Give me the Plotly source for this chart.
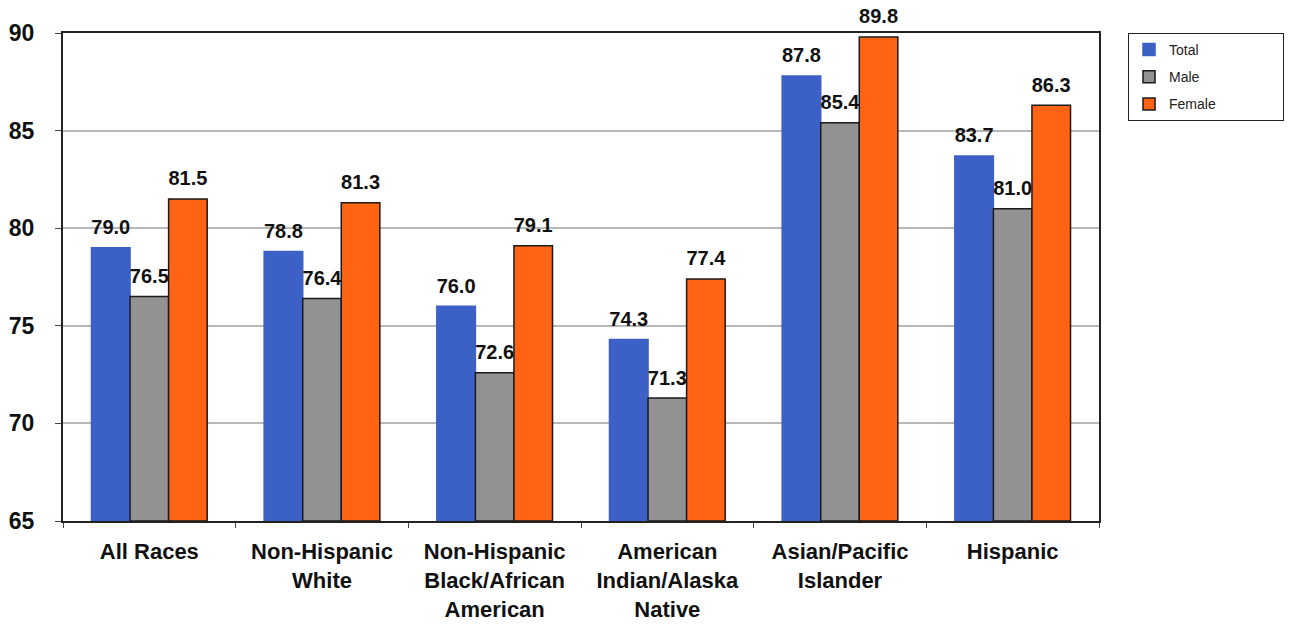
import plotly.graph_objects as go

categories = ["All Races", "Non-Hispanic<br>White", "Non-Hispanic<br>Black/African<br>American",
              "American<br>Indian/Alaska<br>Native", "Asian/Pacific<br>Islander", "Hispanic"]
total = [79.0, 78.8, 76.0, 74.3, 87.8, 83.7]
male = [76.5, 76.4, 72.6, 71.3, 85.4, 81.0]
female = [81.5, 81.3, 79.1, 77.4, 89.8, 86.3]
yticks = [65, 70, 75, 80, 85, 90]

FONT = "Liberation Sans Narrow, Arial Narrow, Liberation Sans, Arial, sans-serif"
PAD = "\u00a0" * 16

fig = go.Figure()
series = [("Total", total, "#3c61c6", "#3c61c6"),
          ("Male", male, "#929292", "#1a1a1a"),
          ("Female", female, "#ff6415", "#1a1a1a")]
for i, (name, vals, col, lcol) in enumerate(series):
    fig.add_trace(go.Bar(
        x=categories, y=[v - 65 for v in vals], base=65, name=name + PAD,
        marker=dict(color=col, line=dict(color=lcol, width=1.5)),
        offsetgroup=str(i), legendgroup=name,
    ))
for i, (name, vals, col, lcol) in enumerate(series):
    fig.add_trace(go.Scatter(
        x=categories, y=vals, mode="markers+text", showlegend=False,
        marker=dict(size=12, opacity=0), offsetgroup=str(i),
        text=[f"{v:.1f}" for v in vals], textposition="top center",
        textfont=dict(family=FONT, size=20, color="#111111", weight="bold"),
        cliponaxis=False, hoverinfo="skip", legendgroup=name,
    ))

fig.update_layout(
    width=1291, height=628,
    margin=dict(l=63, r=192, t=33, b=107, autoexpand=False),
    paper_bgcolor="white", plot_bgcolor="white",
    barmode="group", bargap=0.33, bargroupgap=0,
    scattermode="group", scattergap=0.33,
    font=dict(family=FONT, color="#111111"),
    legend=dict(x=1.028, y=1.0, xanchor="left", yanchor="top",
                bordercolor="#222222", borderwidth=1,
                font=dict(family=FONT, size=14, color="#222222"),
                tracegroupgap=6, itemwidth=30),
    xaxis=dict(showline=True, linecolor="#222222", linewidth=2, mirror=True,
               ticks="outside", tickson="boundaries", ticklen=5, tickcolor="#444444",
               automargin=False, ticklabelstandoff=10,
               tickfont=dict(family=FONT, size=22, color="#111111", weight="bold")),
    yaxis=dict(range=[65, 90], tickvals=yticks, showline=True, linecolor="#222222",
               linewidth=2, mirror=True, ticks="outside", ticklen=6, tickcolor="#444444",
               showgrid=True, gridcolor="#b8b8b8", gridwidth=1.5, zeroline=False,
               automargin=False, ticklabelstandoff=16,
               tickfont=dict(family=FONT, size=23, color="#111111", weight="bold")),
)

fig.write_html("out.html", config={"displayModeBar": False},
               post_script="document.body.style.margin='0';")
